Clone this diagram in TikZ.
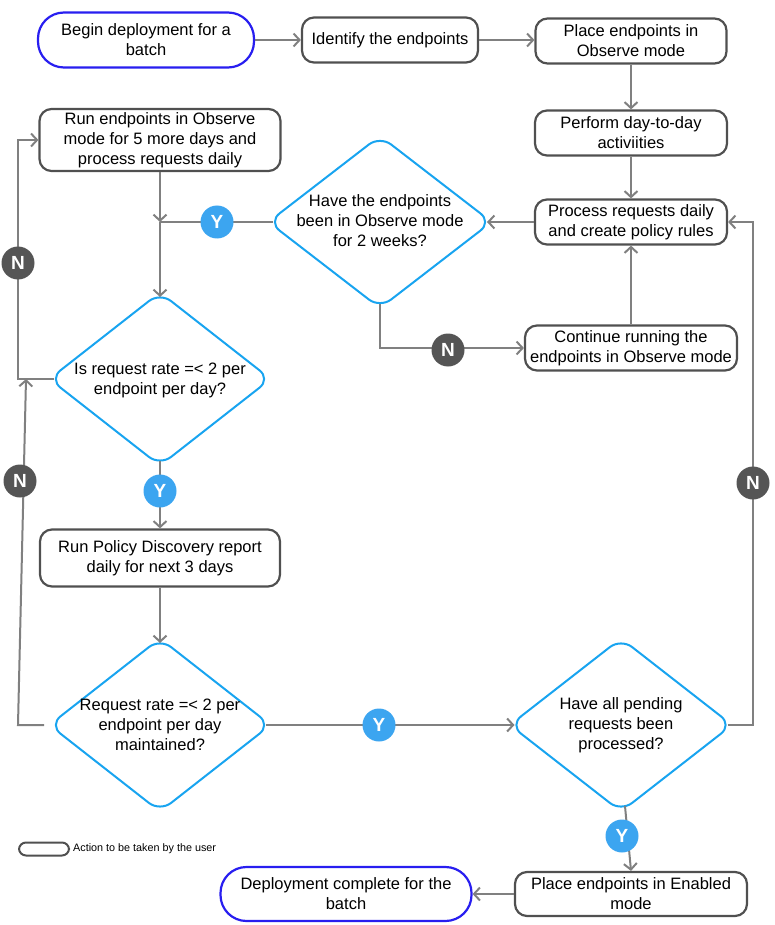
\documentclass[tikz,border=0pt]{standalone}
\usepackage{fontspec}
\setmainfont{Liberation Sans}
\usetikzlibrary{shapes.geometric,arrows.meta}
\definecolor{pillblue}{RGB}{40,30,240}
\definecolor{diablue}{RGB}{24,164,240}
\definecolor{yblue}{RGB}{60,165,240}
\definecolor{ngray}{RGB}{85,85,85}
\definecolor{boxgray}{RGB}{80,80,80}
\definecolor{linegray}{RGB}{128,128,128}
\tikzset{
  base/.style={align=center, inner sep=0pt, font=\fontsize{16.5}{20}\selectfont, fill=white},
  actbox/.style={base, draw=boxgray, line width=2.2pt, rounded corners=12pt},
  pill/.style={base, draw=pillblue, line width=2.2pt, rounded corners=26pt},
  decide/.style={diamond, draw=diablue, line width=2pt, rounded corners=14pt, fill=white, inner sep=0pt},
  dtext/.style={align=center, inner sep=0pt, font=\fontsize{16.5}{20}\selectfont},
  conn/.style={draw=linegray, line width=2pt},
  arr/.style={conn, -{Straight Barb[length=6pt,width=13pt]}},
  ycirc/.style={circle, fill=yblue, minimum size=33pt, inner sep=0pt, text=white, font=\fontsize{19}{19}\selectfont\bfseries},
  ncirc/.style={circle, fill=ngray, minimum size=33pt, inner sep=0pt, text=white, font=\fontsize{19}{19}\selectfont\bfseries}
}
\begin{document}
\begin{tikzpicture}[x=1pt,y=-1pt]
\useasboundingbox (0,0) rectangle (774,925);
% action / terminal nodes
\node[pill, minimum width=216pt, minimum height=55pt] (begin) at (146,40) {Begin deployment for a\\batch};
\node[actbox, minimum width=176pt, minimum height=45pt] (ident) at (390,40) {Identify the endpoints};
\node[actbox, minimum width=191pt, minimum height=45pt] (place) at (631,41) {Place endpoints in\\Observe mode};
\node[actbox, minimum width=192pt, minimum height=45pt] (perf) at (631,133) {Perform day-to-day\\activiities};
\node[actbox, minimum width=192pt, minimum height=45pt] (proc) at (631,222) {Process requests daily\\and create policy rules};
\node[actbox, minimum width=212pt, minimum height=45pt] (cont) at (631,348) {Continue running the\\endpoints in Observe mode};
\node[actbox, minimum width=241pt, minimum height=62pt] (run5) at (160,140) {Run endpoints in Observe\\mode for 5 more days and\\process requests daily};
\node[actbox, minimum width=240pt, minimum height=57pt] (pol) at (160,558) {Run Policy Discovery report\\daily for next 3 days};
\node[actbox, minimum width=232pt, minimum height=44pt] (enab) at (631,894) {Place endpoints in Enabled\\mode};
\node[pill, minimum width=251pt, minimum height=54pt] (done) at (346,894) {Deployment complete for the\\batch};
% decisions
\node[decide, minimum width=224pt, minimum height=173pt] (d1) at (380,222) {};
\node[dtext] at (380,221) {Have the endpoints\\been in Observe mode\\for 2 weeks?};
\node[decide, minimum width=222pt, minimum height=174pt] (d2) at (160,379) {};
\node[dtext] at (160,380) {Is request rate =< 2 per\\endpoint per day?};
\node[decide, minimum width=222pt, minimum height=174pt] (d3) at (160,725) {};
\node[dtext] at (160,725) {Request rate =< 2 per\\endpoint per day\\maintained?};
\node[decide, minimum width=223pt, minimum height=174pt] (d4) at (621,725) {};
\node[dtext] at (621,725) {Have all pending\\requests been\\processed?};
% inner contact points of the rounded diamonds
\coordinate (d1e) at ([xshift=-6pt]d1.east);
\coordinate (d1w) at ([xshift=6pt]d1.west);
\coordinate (d1s) at ([yshift=6pt]d1.south);
\coordinate (d2n) at ([yshift=-6pt]d2.north);
\coordinate (d2w) at ([xshift=6pt]d2.west);
\coordinate (d2s) at ([yshift=6pt]d2.south);
\coordinate (d3n) at ([yshift=-6pt]d3.north);
\coordinate (d3w) at ([xshift=-4pt]d3.west);
\coordinate (d3e) at ([xshift=-6pt]d3.east);
\coordinate (d4w) at ([xshift=6pt]d4.west);
\coordinate (d4e) at ([xshift=-6pt]d4.east);
\coordinate (d4b) at (625,806);
% helper coordinates
\coordinate (lx) at (18,0);
\coordinate (rx) at (753,0);
\coordinate (j1) at (160,222);
\coordinate (j2) at (26,379);
% connectors
\draw[arr] (begin.east) -- (ident.west);
\draw[arr] (ident.east) -- (ident.east -| place.west);
\draw[arr] (place.south) -- (perf.north);
\draw[arr] (perf.south) -- (proc.north);
\draw[arr] (proc.west) -- (d1e);
\draw[arr] (cont.north) -- (proc.south);
\draw[arr] (d1s) -- (d1s |- cont.west) -- (cont.west);
\draw[arr] (run5.south) -- (j1);
\draw[conn] (d1w) -- (j1);
\draw[arr] (j1) -- (d2n);
\draw[arr] (d2w) -- (d2w -| lx) -- (run5.west -| lx) -- (run5.west);
\draw[arr] (d3w) -- (d3w -| lx) -- (j2);
\draw[arr] (d2s) -- (pol.north);
\draw[arr] (pol.south) -- (d3n);
\draw[arr] (d3e) -- (d4w);
\draw[arr] (d4e) -- (d4e -| rx) -- (proc.east -| rx) -- (proc.east);
\draw[arr] (d4b) -- (enab.north);
\draw[arr] (enab.west) -- (done.east);
% Y / N markers
\node[ycirc] (y1) at (217,222) {Y};
\node[ncirc] (n1) at (448,350) {N};
\node[ncirc] (n2) at (18,263) {N};
\node[ycirc] (y2) at (160,491) {Y};
\node[ncirc] (n3) at (20,481) {N};
\node[ycirc] (y3) at (379,725) {Y};
\node[ncirc] (n4) at (753,483) {N};
\node[ycirc] (y4) at (622,836) {Y};
% legend
\node[draw=boxgray, line width=2pt, rounded corners=7pt, minimum width=50pt, minimum height=13pt, inner sep=0pt] (leg) at (44,849) {};
\node[anchor=west, inner sep=0pt, font=\fontsize{10.8}{12}\selectfont] (legt) at (73,849) {Action to be taken by the user};
\end{tikzpicture}
\end{document}
